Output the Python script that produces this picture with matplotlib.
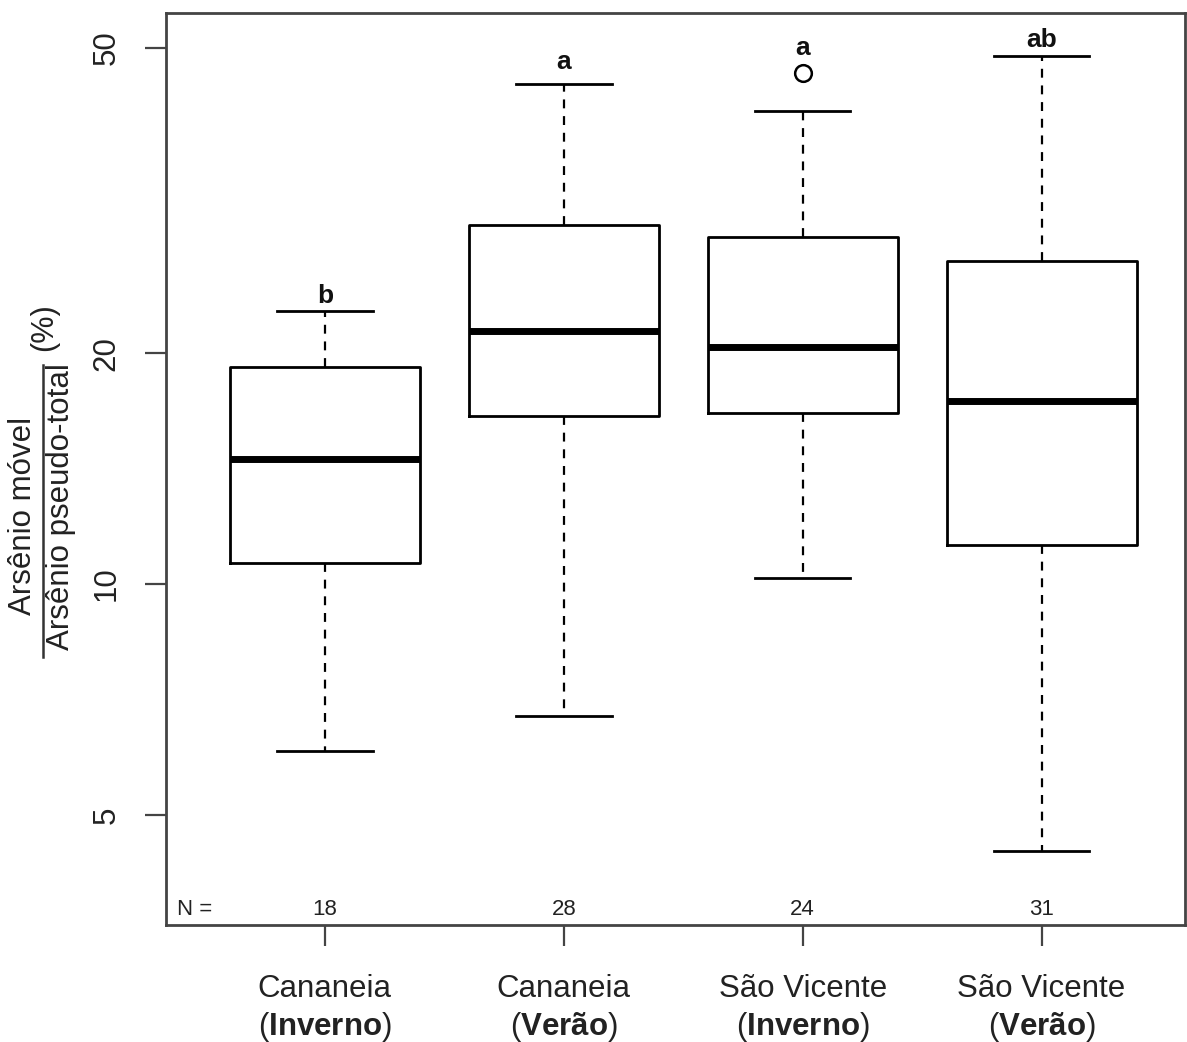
"""
Boxplot: Arsênio móvel / Arsênio pseudo-total (%) por local e estação.
"""
import numpy as np
import matplotlib
matplotlib.use('Agg')
import matplotlib.pyplot as plt
from matplotlib.ticker import FixedLocator, NullLocator
import matplotlib.transforms as mtransforms

plt.rcParams['font.family'] = ['Liberation Sans', 'DejaVu Sans']
plt.rcParams['mathtext.fontset'] = 'custom'
plt.rcParams['mathtext.rm'] = 'Liberation Sans'
plt.rcParams['mathtext.bf'] = 'Liberation Sans:bold'

# dados
locais = ['Cananeia', 'Cananeia', 'São Vicente', 'São Vicente']
estacoes = ['Inverno', 'Verão', 'Inverno', 'Verão']
n_amostras = [18, 28, 24, 31]
whis_lo = [6.06, 6.73, 10.19, 4.49]
q1 = [10.66, 16.57, 16.72, 11.25]
mediana = [14.56, 21.4, 20.4, 17.33]
q3 = [19.19, 29.4, 28.35, 26.4]
whis_hi = [22.7, 44.9, 41.3, 48.8]
outliers = [[], [], [46.3], []]
letras = ['b', 'a', 'a', 'ab']
letras_y = [23.75, 47.9, 50.0, 51.2]
y_ticks = [5, 10, 20, 50]

stats = []
for i in range(len(locais)):
    stats.append(dict(whislo=whis_lo[i], q1=q1[i], med=mediana[i], q3=q3[i],
                      whishi=whis_hi[i], fliers=outliers[i]))

fig = plt.figure(figsize=(11.87, 10.42), dpi=100)
ax = fig.add_axes([0.1398, 0.1123, 0.8585, 0.8752])

lw = 2.0
ax.bxp(stats, positions=[1, 2, 3, 4], widths=0.795,
       boxprops=dict(color='black', linewidth=lw),
       medianprops=dict(color='black', linewidth=5),
       whiskerprops=dict(color='black', linewidth=1.6, linestyle=(0, (4, 3.5))),
       capprops=dict(color='black', linewidth=lw),
       capwidths=0.4,
       flierprops=dict(marker='o', markerfacecolor='none', markeredgecolor='black',
                       markersize=12, markeredgewidth=1.8))

ax.set_yscale('log')
ax.set_ylim(3.595, 55.5)
ax.set_xlim(0.335, 4.6)

ax.yaxis.set_major_locator(FixedLocator(y_ticks))
ax.yaxis.set_minor_locator(NullLocator())
ax.set_yticklabels([str(t) for t in y_ticks], rotation=90, va='center',
                   fontsize=22.5)
ax.tick_params(axis='y', length=15, width=1.6, pad=17, color='#444444',
               labelcolor='#222222')

ax.set_xticks([1, 2, 3, 4])
xlabels = [f'{l}\n($\\mathbf{{{e}}}$)' for l, e in zip(locais, estacoes)]
ax.set_xticklabels(xlabels, fontsize=22.5, linespacing=1.25)
ax.tick_params(axis='x', length=15, width=1.6, pad=20, color='#444444',
               labelcolor='#222222')

for s in ax.spines.values():
    s.set_linewidth(2)
    s.set_color('#444444')

# letras de significância
for i, (l, y) in enumerate(zip(letras, letras_y)):
    ax.text(i + 1, y, l, ha='center', va='center', fontsize=19,
            fontweight='bold', color='#111111')

# N
trans = mtransforms.blended_transform_factory(ax.transData, ax.transAxes)
ax.text(0.011, 0.006, 'N =', transform=ax.transAxes, ha='left', va='bottom',
        fontsize=16, color='#222222')
for i, n in enumerate(n_amostras):
    ax.text(i + 1, 0.006, str(n), transform=trans, ha='center', va='bottom',
            fontsize=16, color='#222222')

# rótulo do eixo y em forma de fração
fig.text(0.0195, 0.5048, 'Arsênio móvel', rotation=90, ha='center',
         va='center', fontsize=22.5, color='#222222')
fig.text(0.0515, 0.5134, 'Arsênio pseudo-total', rotation=90, ha='center',
         va='center', fontsize=22.5, color='#222222')
fig.add_artist(plt.Line2D([0.0362, 0.0362], [0.3695, 0.6497],
                          transform=fig.transFigure, color='#333333',
                          linewidth=1.8))
fig.text(0.0375, 0.6860, '(%)', rotation=90, ha='center', va='center',
         fontsize=22, color='#222222')

fig.savefig('out.png', dpi=100)
